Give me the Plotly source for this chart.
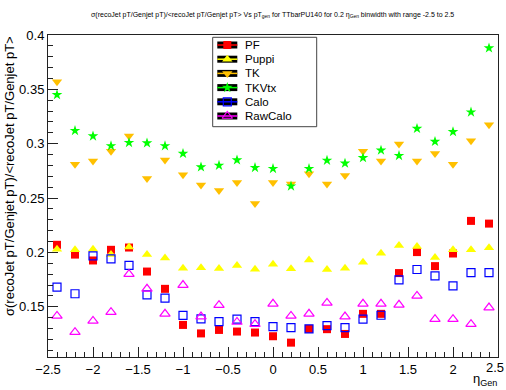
import plotly.graph_objects as go

# Bin centres in eta (0.2 wide bins from -2.5 to 2.5)
eta = [-2.4, -2.2, -2.0, -1.8, -1.6, -1.4, -1.2, -1.0, -0.8, -0.6, -0.4, -0.2, 0.0,
       0.2, 0.4, 0.6, 0.8, 1.0, 1.2, 1.4, 1.6, 1.8, 2.0, 2.2, 2.4]

# Relative resolution per jet collection
pf = [0.207, 0.198, 0.1926, 0.2024, 0.2045, 0.1824, 0.1665, 0.1333, 0.1255, 0.1287, 0.1272, 0.1263, 0.1229,
      0.117, 0.1297, 0.1294, 0.125, 0.1435, 0.1435, 0.181, 0.2003, 0.1874, 0.199, 0.229, 0.2265]
puppi = [0.203, 0.2024, 0.203, 0.198, 0.205, 0.198, 0.1948, 0.1855, 0.186, 0.1852, 0.188, 0.1846, 0.1892,
         0.185, 0.193, 0.1843, 0.1855, 0.191, 0.1993, 0.2064, 0.2055, 0.1953, 0.2024, 0.2024, 0.2042]
tk = [0.357, 0.281, 0.284, 0.293, 0.307, 0.268, 0.285, 0.2715, 0.262, 0.257, 0.2644, 0.245, 0.2644,
      0.263, 0.2724, 0.263, 0.2708, 0.293, 0.284, 0.2997, 0.284, 0.291, 0.281, 0.3028, 0.3175]
tkvtx = [0.345, 0.312, 0.307, 0.298, 0.301, 0.3006, 0.298, 0.291, 0.2785, 0.280, 0.285, 0.278, 0.277,
         0.261, 0.277, 0.2846, 0.282, 0.287, 0.294, 0.289, 0.314, 0.302, 0.311, 0.329, 0.388]
calo = [0.168, 0.162, 0.1969, 0.194, 0.188, 0.161, 0.158, 0.142, 0.1389, 0.1364, 0.1386, 0.1364, 0.1318,
        0.1309, 0.1297, 0.1327, 0.1309, 0.1386, 0.1422, 0.1748, 0.1843, 0.1785, 0.1692, 0.1815, 0.1815]
rawcalo = [0.1416, 0.1266, 0.137, 0.145, 0.180, 0.1665, 0.1435, 0.170, 0.141, 0.1515, 0.136, 0.134, 0.1527,
           0.1416, 0.1435, 0.1536, 0.141, 0.1527, 0.1527, 0.1518, 0.160, 0.1386, 0.1386, 0.134, 0.1493]

names = ["PF", "Puppi", "TK", "TKVtx", "Calo", "RawCalo"]
series = [pf, puppi, tk, tkvtx, calo, rawcalo]
colors = ["#ff0000", "#ffff00", "#ffc000", "#00ff00", "#0000ff", "#ff00ff"]
symbols = ["square", "triangle-up", "triangle-down", "star", "square-open", "triangle-up-open"]
sizes = [8, 9, 9, 8, 8, 9]

FONT = "Liberation Sans, Arial, Helvetica, sans-serif"
W, H = 506, 390
L, R, T, B = 48, 8, 35, 33
PW, PH = W - L - R, H - T - B


def px(x):
    return (x - L) / PW


def py(y):
    return (H - B - y) / PH


fig = go.Figure()

for name, ys, c, s, sz in zip(names, series, colors, symbols, sizes):
    fig.add_trace(go.Scatter(
        x=eta, y=ys, mode="markers", name=name, showlegend=False,
        marker=dict(symbol=s, size=sz, color=c, line=dict(width=1.2 if "open" in s else 0, color=c)),
        cliponaxis=False,
    ))

# Hand-built legend box (pixel coordinates on an overlay axis)
box = dict(x0=212.7, y0=37.3, x1=316.7, y1=126.7)
fig.add_shape(type="rect", xref="x2", yref="y2", **box,
              line=dict(color="#444", width=1), fillcolor="white", layer="below")
row0, drow = 45.0, 14.2
sx0, sx1, sxc = 217.3, 237.3, 227.3
for i, (name, c, s, sz) in enumerate(zip(names, colors, symbols, sizes)):
    yc = row0 + i * drow
    fig.add_shape(type="rect", xref="x2", yref="y2", x0=sx0, x1=sx1, y0=yc - 3.5, y1=yc + 3.5,
                  fillcolor="black", line=dict(width=0), layer="below")
    fig.add_shape(type="line", xref="x2", yref="y2", x0=sx0, x1=sx1, y0=yc, y1=yc,
                  line=dict(color=c, width=1.5), layer="below")
    fig.add_trace(go.Scatter(
        x=[sxc], y=[yc], xaxis="x2", yaxis="y2", mode="markers", showlegend=False, hoverinfo="skip",
        marker=dict(symbol=s, size=sz, color=c, line=dict(width=1.2 if "open" in s else 0, color=c)),
        cliponaxis=False,
    ))
    fig.add_annotation(xref="x2", yref="y2", x=243, y=yc, text=name, showarrow=False,
                       xanchor="left", yanchor="middle",
                       font=dict(family=FONT, size=11.5, color="black"))

# Title and axis titles
fig.add_annotation(
    xref="paper", yref="paper", x=px(272), y=py(15),
    text="σ(recoJet pT/Genjet pT)/&lt;recoJet pT/Genjet pT&gt; Vs pT<sub>gen</sub> for TTbarPU140 for 0.2 η<sub>Gen</sub> binwidth with range -2.5 to 2.5",
    showarrow=False, xanchor="center", yanchor="middle",
    font=dict(family=FONT, size=7, color="black"))
fig.add_annotation(
    xref="paper", yref="paper", x=px(9), y=py(34),
    text="σ(recoJet pT/Genjet pT)/&lt;recoJet pT/Genjet pT&gt;", textangle=-90,
    showarrow=False, xanchor="center", yanchor="top",
    font=dict(family=FONT, size=13, color="black"))
fig.add_annotation(
    xref="paper", yref="paper", x=px(499), y=py(379),
    text="η<sub>Gen</sub>", showarrow=False, xanchor="right", yanchor="middle",
    font=dict(family=FONT, size=13, color="black"))
# Last x tick label sits at the page edge; draw it so it stays inside the page
fig.add_annotation(
    xref="paper", yref="paper", x=px(W), y=py(368),
    text="2.5", showarrow=False, xanchor="right", yanchor="middle",
    font=dict(family=FONT, size=13, color="black"))

axis_common = dict(showgrid=False, zeroline=False, showline=True, mirror=True,
                   linecolor="#222", linewidth=1, ticks="inside", tickcolor="#222",
                   ticklen=10, tickwidth=1,
                   tickfont=dict(family=FONT, size=13, color="black"))

fig.update_layout(
    width=W, height=H,
    margin=dict(l=L, r=R, t=T, b=B, pad=0),
    paper_bgcolor="white", plot_bgcolor="white",
    showlegend=False,
    xaxis=dict(range=[-2.5, 2.5], tick0=-2.5, dtick=0.5,
               minor=dict(dtick=0.1, ticklen=5, ticks="inside", tickcolor="#222"),
               **axis_common),
    yaxis=dict(range=[0.1038, 0.4], tick0=0, dtick=0.05,
               minor=dict(dtick=0.01, ticklen=5, ticks="inside", tickcolor="#222"),
               **axis_common),
    xaxis2=dict(overlaying="x", range=[L, W - R], visible=False),
    yaxis2=dict(overlaying="y", range=[H - B, T], visible=False),
)

fig.write_html("out.html")
